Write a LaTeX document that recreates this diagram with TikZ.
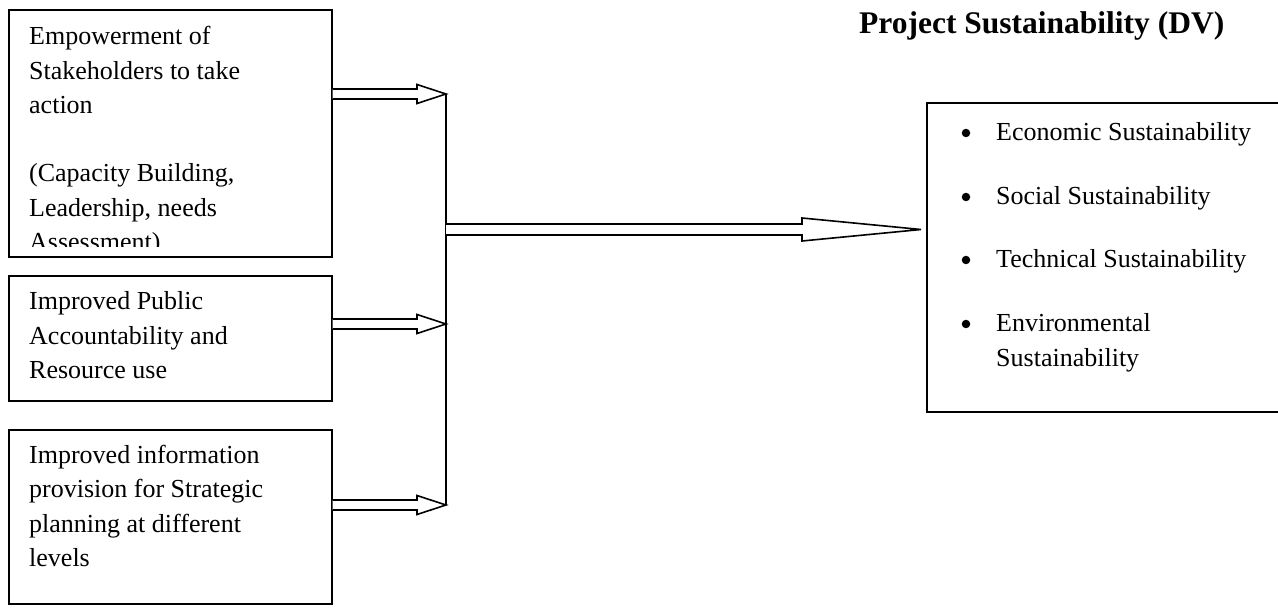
\documentclass[tikz,border=0pt]{standalone}
\usepackage{fontspec}
\setmainfont{Liberation Serif}
\usetikzlibrary{calc}
\tikzset{
  box/.style={draw, line width=1.6pt, inner sep=0pt, anchor=north west},
  boxline/.style={line width=1.6pt},
  txt/.style={anchor=base west, inner sep=0pt, font=\fontsize{26}{34}\selectfont},
  ttl/.style={anchor=base west, inner sep=0pt, font=\fontsize{31.5}{38}\selectfont\bfseries},
  dot/.style={circle, fill=black, inner sep=0pt, minimum size=8.5pt},
  arr/.style={draw, line width=1.6pt, fill=white, line join=miter},
  junction/.style={line width=1.6pt},
}
\newcommand\hollowarrow[5]{%
  \draw[arr] ($(#1)+(0,-#4)$) -- ($(#2)+(-#3,-#4)$) -- ($(#2)+(-#3,-#5)$) -- (#2)
    -- ($(#2)+(-#3,#5)$) -- ($(#2)+(-#3,#4)$) -- ($(#1)+(0,#4)$);}
\begin{document}
\begin{tikzpicture}[x=1pt,y=-1pt]
\useasboundingbox (0,0) rectangle (1278,612);
% left boxes
\node[box, minimum width=323pt, minimum height=247pt] (b1) at (8,9) {};
\node[box, minimum width=323pt, minimum height=125pt] (b2) at (8,275) {};
\node[box, minimum width=323pt, minimum height=174pt] (b3) at (8,429) {};
% box 1 text (last line cut off by the box)
\begin{scope}
\clip (8,9) rectangle (331,247);
\node[txt] (t11) at (29,45) {Empowerment of};
\node[txt] (t12) at (29,79.5) {Stakeholders to take};
\node[txt] (t13) at (29,114) {action};
\node[txt] (t14) at (29,182) {(Capacity Building,};
\node[txt] (t15) at (29,216.5) {Leadership, needs};
\node[txt] (t16) at (29,251) {Assessment)};
\end{scope}
% box 2 text
\node[txt] (t21) at (29,310) {Improved Public};
\node[txt] (t22) at (29,344.5) {Accountability and};
\node[txt] (t23) at (29,379) {Resource use};
% box 3 text
\node[txt] (t31) at (29,463) {Improved information};
\node[txt] (t32) at (29,497.5) {provision for Strategic};
\node[txt] (t33) at (29,532) {planning at different};
\node[txt] (t34) at (29,566.5) {levels};
% connector coordinates
\coordinate (s1) at (b1.east |- 0,94);
\coordinate (s2) at (b2.east |- 0,324);
\coordinate (s3) at (b3.east |- 0,505);
\coordinate (j1) at (446,94);
\coordinate (j2) at (446,324);
\coordinate (j3) at (446,505);
\coordinate (j0) at (446,229.5);
% right box (open on the right, cut by the page edge)
\coordinate (r0) at (921,229.5);
\draw[boxline] (1280,103) -| (927,412) -- (1280,412);
\node[inner sep=0pt, minimum width=351pt, minimum height=309pt, anchor=north west] (b4) at (927,103) {};
% arrows
\hollowarrow{s1}{j1}{29}{5}{9.5}
\hollowarrow{s2}{j2}{29}{5}{9.5}
\hollowarrow{s3}{j3}{29}{5}{9.5}
\draw[junction] (j1) -- (j3);
\hollowarrow{j0}{r0}{119}{5.5}{11.5}
% title
\node[ttl] (title) at (859,33.5) {Project Sustainability (DV)};
% bullets
\node[dot] (p1) at (966,133) {};
\node[txt] (l1) at (996,141) {Economic Sustainability};
\node[dot] (p2) at (966,197) {};
\node[txt] (l2) at (996,205) {Social Sustainability};
\node[dot] (p3) at (966,260) {};
\node[txt] (l3) at (996,268) {Technical Sustainability};
\node[dot] (p4) at (966,324) {};
\node[txt] (l4) at (996,332) {Environmental};
\node[txt] (l5) at (996,367) {Sustainability};
\end{tikzpicture}
\end{document}
